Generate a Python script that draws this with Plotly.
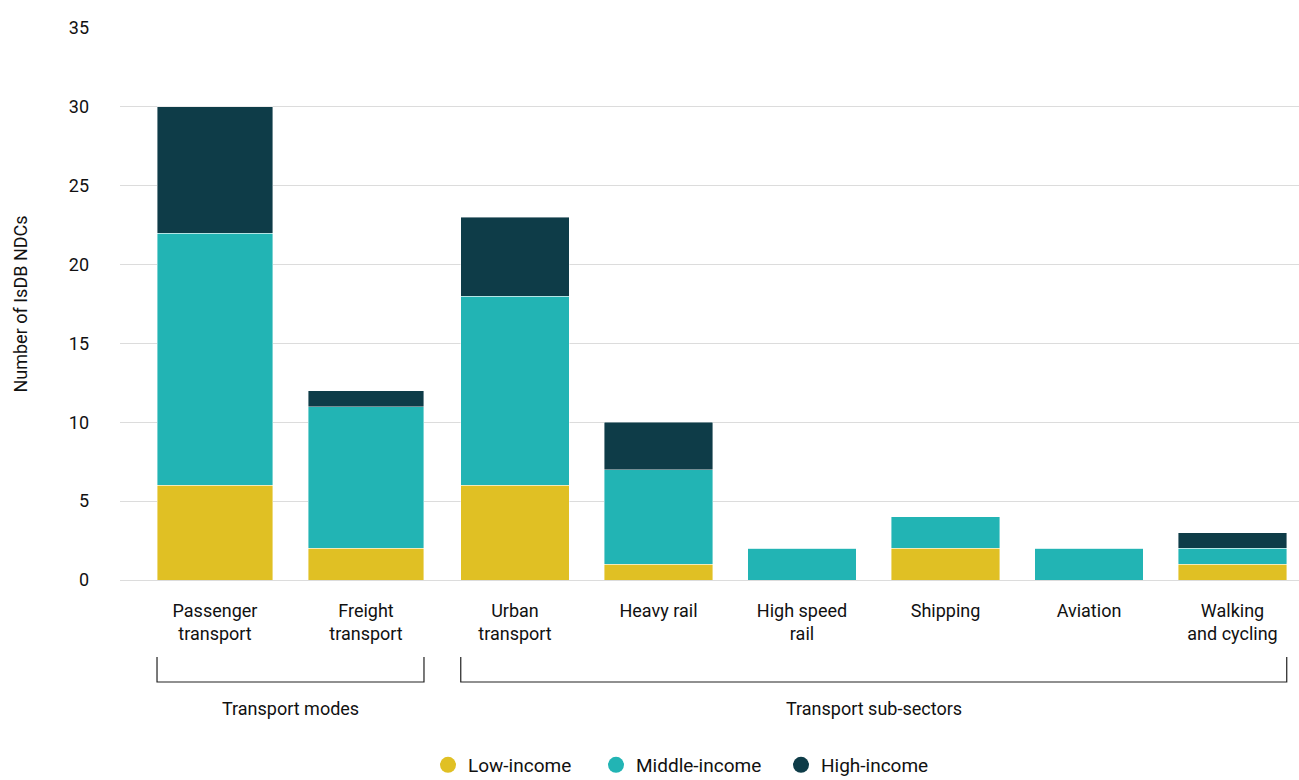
import plotly.graph_objects as go

categories = ["Passenger<br>transport", "Freight<br>transport", "Urban<br>transport", "Heavy rail",
              "High speed<br>rail", "Shipping", "Aviation", "Walking<br>and cycling"]
low_income = [6, 2, 6, 1, 0, 2, 0, 1]
middle_income = [16, 9, 12, 6, 2, 2, 2, 1]
high_income = [8, 1, 5, 3, 0, 0, 0, 1]
series_names = ["Low-income", "Middle-income", "High-income"]
colors = ["#E0C024", "#22B4B4", "#0E3C48"]
# groups: label, first index, last index (exclusive)
groups = [("Transport modes", 0, 2), ("Transport sub-sectors", 2, 8)]
y_ticks = [0, 5, 10, 15, 20, 25, 30, 35]

FONT = "Roboto"
W, H = 1299, 780
L_MARGIN = 120
SPLIT = 441  # px boundary between the two groups' axes
axis_cfg = [
    # xaxis name, px per category, px centre of first category, bar width (fraction)
    ("x", 151.0, 215.0, 0.768),
    ("x2", 143.5, 515.0, 0.756),
]
legend_ids = ["legend", "legend2", "legend3"]
legend_x = [428, 596, 781]  # left edge of each legend box, px

fig = go.Figure()
for name, vals, col, lid in zip(series_names, [low_income, middle_income, high_income], colors, legend_ids):
    for (label, i0, i1), (xa, _, _, bw) in zip(groups, axis_cfg):
        fig.add_trace(go.Bar(x=categories[i0:i1], y=vals[i0:i1], name=name, marker_color=col,
                             width=bw, xaxis=xa, yaxis="y",
                             marker_line=dict(color="rgba(255,255,255,0.7)", width=0.6),
                             showlegend=False))
    fig.add_trace(go.Scatter(x=[None], y=[None], mode="markers", name=name, legend=lid,
                             marker=dict(symbol="circle", size=19, color=col)))

layout_axes = {}
for k, ((label, i0, i1), (xa, ppc, c0, bw)) in enumerate(zip(groups, axis_cfg)):
    d0 = L_MARGIN if k == 0 else SPLIT
    d1 = SPLIT if k == 0 else W
    n = i1 - i0
    rng = [-(c0 - d0) / ppc, (d1 - c0) / ppc]
    key = "xaxis" if xa == "x" else "xaxis2"
    layout_axes[key] = dict(
        domain=[(d0 - L_MARGIN) / (W - L_MARGIN), (d1 - L_MARGIN) / (W - L_MARGIN)],
        anchor="y", type="category", categoryorder="array", categoryarray=categories[i0:i1],
        range=rng, showgrid=False, zeroline=False, showline=False,
        ticks="", ticklabelstandoff=18, tickfont=dict(size=18))
    x0, x1 = -bw / 2, (n - 1) + bw / 2
    fig.add_shape(type="path", xref=xa, yref="paper",
                  path=f"M {x0} -0.1395 L {x0} -0.1848 L {x1} -0.1848 L {x1} -0.1395",
                  line=dict(color="#222222", width=1.2))
    fig.add_annotation(x=(x0 + x1) / 2, y=-0.232, xref=xa, yref="paper", text=label,
                       showarrow=False, yanchor="middle", font=dict(family=FONT, size=18, color="#111111"))

legend_common = dict(orientation="h", yref="container", xref="container", y=(H - 765) / H,
                     yanchor="middle", xanchor="left", font=dict(family=FONT, size=19),
                     itemwidth=30, bgcolor="rgba(0,0,0,0)")
legends = {lid: dict(legend_common, x=lx / W) for lid, lx in zip(legend_ids, legend_x)}

fig.update_layout(
    barmode="stack",
    width=W, height=H,
    margin=dict(l=L_MARGIN, r=0, t=28, b=200, autoexpand=False),
    plot_bgcolor="white", paper_bgcolor="white",
    font=dict(family=FONT, size=18, color="#111111"),
    yaxis=dict(range=[0, 35], tickvals=y_ticks, showgrid=True, gridcolor="#dcdcdc", gridwidth=1,
               zeroline=True, zerolinecolor="#dcdcdc", zerolinewidth=1, showline=False,
               ticks="", ticklabelstandoff=30, tickfont=dict(size=18),
               title=dict(text="Number of IsDB NDCs", font=dict(size=18), standoff=36)),
    **layout_axes,
    **legends,
)
fig.write_html("out.html", config={"displayModeBar": False},
               post_script="document.body.style.margin='0';document.body.style.overflow='hidden';")
